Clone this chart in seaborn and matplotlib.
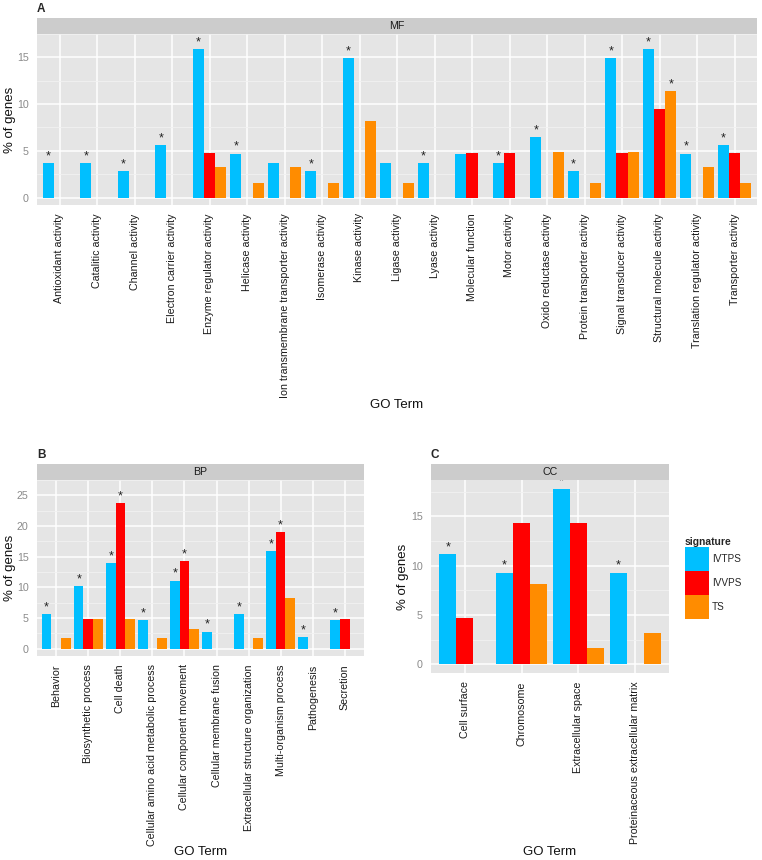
import numpy as np
import pandas as pd
import matplotlib
matplotlib.use("Agg")
import matplotlib.pyplot as plt
import seaborn as sns

sns.set_style("white")
plt.rcParams['font.family'] = ['Liberation Sans', 'DejaVu Sans']

# ---- data ----
signatures = ["IVTPS", "IVVPS", "TS"]
colors = ["#00BFFF", "#FF0000", "#FF8C00"]

mf_terms = ["Antioxidant activity", "Catalitic activity", "Channel activity",
            "Electron carrier activity", "Enzyme regulator activity", "Helicase activity",
            "Ion transmembrane transporter activity", "Isomerase activity", "Kinase activity",
            "Ligase activity", "Lyase activity", "Molecular function", "Motor activity",
            "Oxido reductase activity", "Protein transporter activity",
            "Signal transducer activity", "Structural molecule activity",
            "Translation regulator activity", "Transporter activity"]
mf_ivtps = [3.7, 3.7, 2.8, 5.6, 15.9, 4.7, 3.7, 2.8, 14.9, 3.7, 3.7, 4.7, 3.7, 6.5, 2.8, 14.9, 15.9, 4.7, 5.6]
mf_ivvps = [0, 0, 0, 0, 4.8, 0, 0, 0, 0, 0, 0, 4.8, 4.8, 0, 0, 4.8, 9.5, 0, 4.8]
mf_ts = [0, 0, 0, 0, 3.3, 1.6, 3.3, 1.6, 8.2, 1.6, 0, 0, 0, 4.9, 1.6, 4.9, 11.4, 3.3, 1.6]
mf_stars = {"IVTPS": ["Antioxidant activity", "Catalitic activity", "Channel activity",
                      "Electron carrier activity", "Enzyme regulator activity", "Helicase activity",
                      "Isomerase activity", "Kinase activity", "Lyase activity", "Motor activity",
                      "Oxido reductase activity", "Protein transporter activity",
                      "Signal transducer activity", "Structural molecule activity",
                      "Translation regulator activity", "Transporter activity"],
            "IVVPS": [],
            "TS": ["Structural molecule activity"]}

bp_terms = ["Behavior", "Biosynthetic process", "Cell death",
            "Cellular amino acid metabolic process", "Cellular component movement",
            "Cellular membrane fusion", "Extracellular structure organization",
            "Multi-organism process", "Pathogenesis", "Secretion"]
bp_ivtps = [5.6, 10.2, 14.0, 4.7, 11.1, 2.8, 5.6, 15.9, 1.9, 4.7]
bp_ivvps = [0, 4.8, 23.8, 0, 14.3, 0, 0, 19.0, 0, 4.8]
bp_ts = [1.7, 4.9, 4.9, 1.7, 3.2, 0, 1.7, 8.2, 0, 0]
bp_stars = {"IVTPS": ["Behavior", "Biosynthetic process", "Cell death",
                      "Cellular amino acid metabolic process", "Cellular component movement",
                      "Cellular membrane fusion", "Extracellular structure organization",
                      "Multi-organism process", "Pathogenesis", "Secretion"],
            "IVVPS": ["Cell death", "Cellular component movement", "Multi-organism process"],
            "TS": []}

cc_terms = ["Cell surface", "Chromosome", "Extracellular space",
            "Proteinaceous extracellular matrix"]
cc_ivtps = [11.2, 9.3, 17.8, 9.3]
cc_ivvps = [4.7, 14.3, 14.3, 0]
cc_ts = [0, 8.1, 1.6, 3.2]
cc_stars = {"IVTPS": ["Cell surface", "Chromosome", "Extracellular space",
                      "Proteinaceous extracellular matrix"],
            "IVVPS": [],
            "TS": []}

W, H = 762, 860
fig = plt.figure(figsize=(W / 100, H / 100), dpi=100)


def make_df(terms, a, b, c):
    rows = []
    for sig, vals in zip(signatures, [a, b, c]):
        for t, v in zip(terms, vals):
            rows.append({"term": t, "signature": sig, "pct": v})
    return pd.DataFrame(rows)


def draw_panel(box, df, terms, stars, strip, letter, yticks, legend=False):
    x0, y0, x1, y1 = box  # pixels: left, top, right, bottom
    ax = fig.add_axes([x0 / W, 1 - y1 / H, (x1 - x0) / W, (y1 - y0) / H])
    ax.set_facecolor("#E5E5E5")
    sns.barplot(data=df, x="term", y="pct", hue="signature", order=terms,
                hue_order=signatures, palette=colors, saturation=1, width=0.9,
                linewidth=0, legend=legend, ax=ax, zorder=3)
    n = len(terms)
    top = df["pct"].max()
    ax.set_xlim(-0.6, n - 0.4)
    ax.set_ylim(-0.05 * top, 1.05 * top)
    ax.set_yticks(yticks)
    minors = [(yticks[i] + yticks[i + 1]) / 2 for i in range(len(yticks) - 1)]
    minors.append(yticks[-1] + (yticks[1] - yticks[0]) / 2)
    ax.set_yticks(minors, minor=True)
    ax.grid(True, which="major", color="white", lw=1.1, zorder=0)
    ax.grid(True, which="minor", axis="y", color="#F2F2F2", lw=0.6, zorder=0)
    ax.set_axisbelow(True)
    for s in ax.spines.values():
        s.set_visible(False)
    ax.tick_params(axis="both", which="major", length=4, width=0.8, color="#7F7F7F",
                   labelsize=7.7, pad=2)
    ax.tick_params(axis="y", which="minor", length=0)
    ax.tick_params(axis="y", labelcolor="#8A8A8A")
    ax.tick_params(axis="x", labelcolor="#1A1A1A")
    ax.set_xticks(range(n))
    ax.set_xticklabels(terms, rotation=90, va="top", ha="center")

    # significance stars
    for sig, cont in zip(signatures, ax.containers):
        for t, bar in zip(terms, cont):
            if t in stars[sig]:
                ax.text(bar.get_x() + bar.get_width() / 2, bar.get_height() + 0.005 * top, "*",
                        ha="center", va="bottom", fontsize=9, color="#222222", zorder=4)

    ax.set_xlabel("GO Term", fontsize=9.5, color="#111111")
    ax.set_ylabel("% of genes", fontsize=9.5, color="#111111")

    # facet strip
    sax = fig.add_axes([x0 / W, 1 - y0 / H, (x1 - x0) / W, 16.5 / H])
    sax.set_facecolor("#CCCCCC")
    sax.set_xticks([])
    sax.set_yticks([])
    for s in sax.spines.values():
        s.set_visible(False)
    sax.text(0.5, 0.5, strip, ha="center", va="center", fontsize=7.7,
             color="#1A1A1A", transform=sax.transAxes)
    fig.text(x0 / W, 1 - (y0 - 25) / H, letter, fontsize=8.5, fontweight="bold",
             ha="left", va="center")
    return ax


df_mf = make_df(mf_terms, mf_ivtps, mf_ivvps, mf_ts)
df_bp = make_df(bp_terms, bp_ivtps, bp_ivvps, bp_ts)
df_cc = make_df(cc_terms, cc_ivtps, cc_ivvps, cc_ts)

ax_a = draw_panel((37, 34, 757, 205), df_mf, mf_terms, mf_stars, "MF", "A", [0, 5, 10, 15])
ax_b = draw_panel((37, 480, 364, 656), df_bp, bp_terms, bp_stars, "BP", "B", [0, 5, 10, 15, 20, 25])
ax_c = draw_panel((431, 480, 669, 673), df_cc, cc_terms, cc_stars, "CC", "C", [0, 5, 10, 15],
                  legend=True)

# axis title placement (figure pixels -> axes coords)
def place_labels(ax, box, xlab_y, ylab_x):
    x0, y0, x1, y1 = box
    ax.xaxis.set_label_coords(0.5, (y1 - xlab_y) / (y1 - y0))
    ax.yaxis.set_label_coords((ylab_x - x0) / (x1 - x0), 0.5)

place_labels(ax_a, (37, 34, 757, 205), 405, 10)
place_labels(ax_b, (37, 480, 364, 656), 852, 10)
place_labels(ax_c, (431, 480, 669, 673), 852, 403)
for ax in (ax_a, ax_b, ax_c):
    ax.xaxis.label.set_va("center")
    ax.yaxis.label.set_va("center")

sns.move_legend(ax_c, "upper left", bbox_to_anchor=(685 / W, 1 - 537 / H),
                bbox_transform=fig.transFigure, frameon=False, title="signature",
                fontsize=7.2, title_fontsize=7.4, handlelength=2.4, handleheight=3.3,
                labelspacing=0.0, handletextpad=0.3, borderpad=0, borderaxespad=0,
                alignment="left")
ax_c.get_legend().get_title().set_fontweight("bold")

fig.savefig("out.png", dpi=100, facecolor="white")
